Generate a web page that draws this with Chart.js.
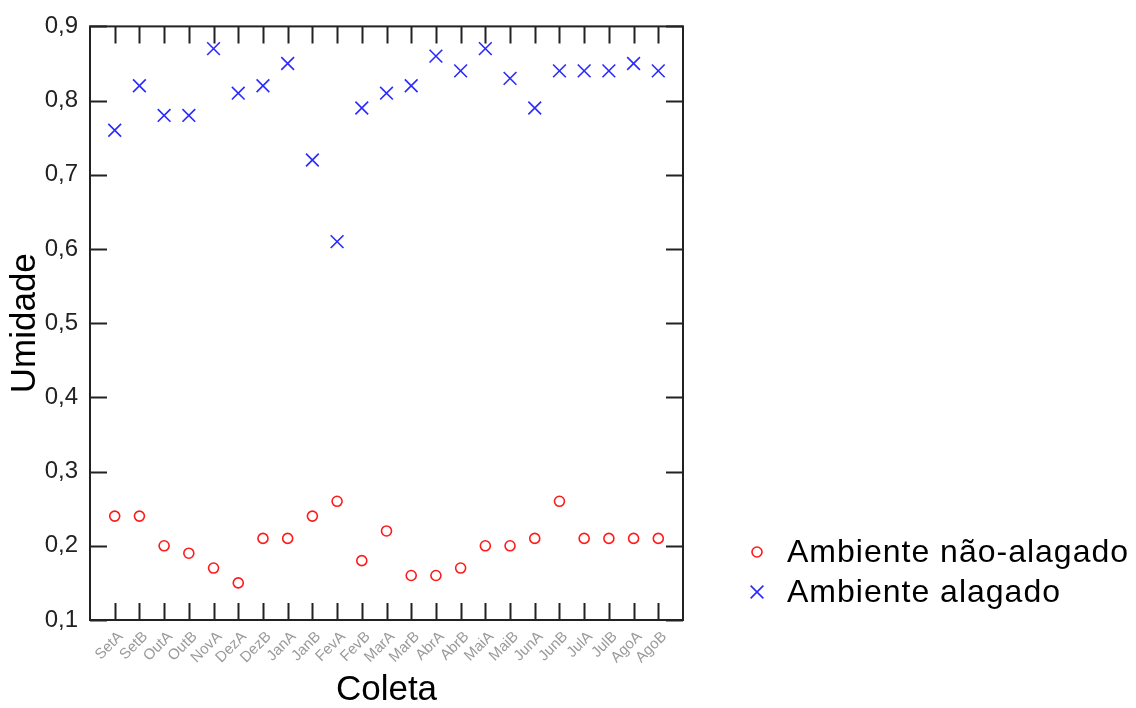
<!DOCTYPE html>
<html>
<head>
<meta charset="utf-8">
<script src="https://cdn.jsdelivr.net/npm/chart.js@4.4.1/dist/chart.umd.min.js"></script>
<style>
  html, body { margin: 0; padding: 0; background: #fff; }
  #wrap { width: 1136px; height: 708px; }
</style>
</head>
<body>
<div id="wrap"><canvas id="chart" width="1136" height="708"></canvas></div>
<script>
// DATA
const coletas = ["SetA", "SetB", "OutA", "OutB", "NovA", "DezA", "DezB", "JanA", "JanB", "FevA", "FevB", "MarA",
  "MarB", "AbrA", "AbrB", "MaiA", "MaiB", "JunA", "JunB", "JulA", "JulB", "AgoA", "AgoB"];
const naoAlagado = [0.24, 0.24, 0.20, 0.19, 0.17, 0.15, 0.21, 0.21, 0.24, 0.26, 0.18, 0.22,
  0.16, 0.16, 0.17, 0.20, 0.20, 0.21, 0.26, 0.21, 0.21, 0.21, 0.21];
const alagado = [0.76, 0.82, 0.78, 0.78, 0.87, 0.81, 0.82, 0.85, 0.72, 0.61, 0.79, 0.81,
  0.82, 0.86, 0.84, 0.87, 0.83, 0.79, 0.84, 0.84, 0.84, 0.85, 0.84];
const yTicks = [0.1, 0.2, 0.3, 0.4, 0.5, 0.6, 0.7, 0.8, 0.9];

const toPoints = (arr) => arr.map((v, i) => ({ x: i + 1, y: v }));

// box + inward ticks on all four sides
const frame = {
  id: 'frame',
  afterDatasetsDraw(chart) {
    const { ctx, chartArea: a, scales } = chart;
    ctx.save();
    ctx.strokeStyle = '#222';
    ctx.lineWidth = 2;
    ctx.strokeRect(a.left, a.top, a.right - a.left, a.bottom - a.top);
    ctx.beginPath();
    coletas.forEach((_, i) => {
      const x = Math.round(scales.x.getPixelForValue(i + 1)) + 0.5;
      ctx.moveTo(x, a.bottom); ctx.lineTo(x, a.bottom - 17);
      ctx.moveTo(x, a.top); ctx.lineTo(x, a.top + 17);
    });
    yTicks.forEach((v) => {
      const y = Math.round(scales.y.getPixelForValue(v)) + 0.5;
      ctx.moveTo(a.left, y); ctx.lineTo(a.left + 17, y);
      ctx.moveTo(a.right, y); ctx.lineTo(a.right - 17, y);
    });
    ctx.stroke();
    ctx.restore();
  }
};

// legend at lower right
const sideLegend = {
  id: 'sideLegend',
  afterDraw(chart) {
    const ctx = chart.ctx;
    const items = chart.data.datasets;
    ctx.save();
    items.forEach((ds, i) => {
      const y = 552 + i * 40;
      ctx.strokeStyle = ds.borderColor;
      ctx.fillStyle = 'rgba(0,0,0,0)';
      ctx.lineWidth = ds.borderWidth;
      Chart.helpers.drawPoint(ctx, { pointStyle: ds.pointStyle, radius: ds.pointRadius, borderWidth: ds.borderWidth }, 757, y);
      ctx.fillStyle = '#000';
      ctx.font = '32px "Liberation Sans", Arial, sans-serif';
      ctx.letterSpacing = '1px';
      ctx.textBaseline = 'middle';
      ctx.textAlign = 'left';
      ctx.fillText(ds.label, 787, y + 1);
    });
    ctx.restore();
  }
};

new Chart(document.getElementById('chart'), {
  type: 'scatter',
  data: {
    datasets: [
      {
        label: 'Ambiente não-alagado',
        data: toPoints(naoAlagado),
        pointStyle: 'circle',
        pointRadius: 5,
        borderColor: '#ff1a1a',
        backgroundColor: 'rgba(0,0,0,0)',
        borderWidth: 1.6
      },
      {
        label: 'Ambiente alagado',
        data: toPoints(alagado),
        pointStyle: 'crossRot',
        pointRadius: 9,
        borderColor: '#2a2aff',
        backgroundColor: '#2a2aff',
        borderWidth: 1.6
      }
    ]
  },
  options: {
    responsive: false,
    animation: false,
    layout: { padding: { left: 0, right: 453, top: 24, bottom: 0 } },
    plugins: {
      legend: { display: false },
      tooltip: { enabled: false }
    },
    scales: {
      x: {
        type: 'linear',
        min: 0,
        max: 24,
        afterFit: (s) => { s.height = 88; },
        grid: { display: false, drawTicks: false },
        border: { display: false },
        ticks: {
          stepSize: 1,
          autoSkip: false,
          minRotation: 45,
          maxRotation: 45,
          padding: 8,
          labelOffset: 6,
          color: '#9a9a9a',
          font: { family: '"Liberation Sans", Arial, sans-serif', size: 15 },
          callback: (v) => coletas[v - 1] || ''
        },
        title: {
          display: true,
          text: 'Coleta',
          color: '#000',
          padding: 0,
          font: { family: '"Liberation Sans", Arial, sans-serif', size: 35, lineHeight: 1 }
        }
      },
      y: {
        min: 0.1,
        max: 0.9,
        afterFit: (s) => { s.width = 90; },
        grid: { display: false, drawTicks: false },
        border: { display: false },
        ticks: {
          stepSize: 0.1,
          padding: 12,
          color: '#222',
          font: { family: '"Liberation Sans", Arial, sans-serif', size: 24 },
          callback: (v) => v.toFixed(1).replace('.', ',')
        },
        title: {
          display: true,
          text: 'Umidade',
          color: '#000',
          padding: { top: 8, bottom: 0 },
          font: { family: '"Liberation Sans", Arial, sans-serif', size: 35, lineHeight: 1 }
        }
      }
    }
  },
  plugins: [frame, sideLegend]
});
</script>
</body>
</html>
